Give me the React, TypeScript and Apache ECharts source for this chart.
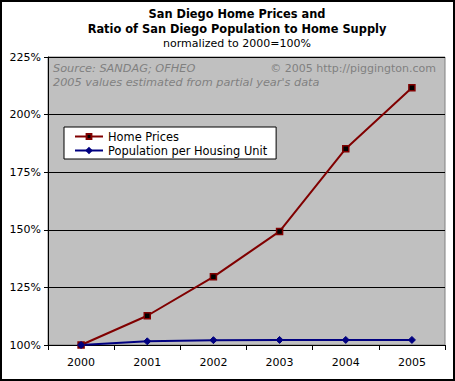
import React, { useEffect, useRef } from "react";
import * as echarts from "echarts";

const years = ["2000", "2001", "2002", "2003", "2004", "2005"];
const homePrices = [100, 112.7, 129.6, 149.3, 185.2, 211.7];
const popPerUnit = [100, 101.6, 102.1, 102.2, 102.2, 102.2];
const yTicks = { min: 100, max: 225, step: 25 };

const FONT = "DejaVu Sans";

export default function App() {
  const ref = useRef<HTMLDivElement>(null);
  useEffect(() => {
    document.body.style.margin = "0";
    const chart = echarts.init(ref.current!, null, { renderer: "svg" });
    chart.setOption({
      animation: false,
      backgroundColor: "#ffffff",
      textStyle: { fontFamily: FONT },
      grid: {
        left: 48,
        right: 10,
        top: 57,
        bottom: 36,
        show: true,
        backgroundColor: "#C0C0C0",
        borderColor: "#808080",
        borderWidth: 1,
      },
      xAxis: {
        type: "category",
        data: years,
        boundaryGap: true,
        axisLine: { show: true, lineStyle: { color: "#000", width: 1 } },
        axisTick: { show: true, length: 5, lineStyle: { color: "#000" } },
        axisLabel: { color: "#000", fontSize: 11, fontFamily: FONT, margin: 12 },
        splitLine: { show: false },
      },
      yAxis: {
        type: "value",
        min: yTicks.min,
        max: yTicks.max,
        interval: yTicks.step,
        axisLine: { show: true, lineStyle: { color: "#000", width: 1 } },
        axisTick: { show: true, length: 4, lineStyle: { color: "#000" } },
        axisLabel: {
          color: "#000",
          fontSize: 11,
          fontFamily: FONT,
          margin: 7,
          formatter: "{value}%",
        },
        splitLine: { show: true, lineStyle: { color: "#000", width: 1 } },
      },
      legend: {
        orient: "vertical",
        left: 64,
        top: 127,
        backgroundColor: "#ffffff",
        borderColor: "#000000",
        borderWidth: 1,
        borderRadius: 0,
        padding: [4, 9, 3, 10],
        itemGap: 3,
        itemWidth: 28,
        itemHeight: 6,
        textStyle: { color: "#000", fontSize: 11.4, fontFamily: FONT },
        data: ["Home Prices", "Population per Housing Unit"],
      },
      series: [
        {
          name: "Home Prices",
          type: "line",
          data: homePrices,
          color: "#800000",
          lineStyle: { color: "#800000", width: 2 },
          symbol: "rect",
          symbolSize: 6,
          itemStyle: { color: "#000000", borderColor: "#800000", borderWidth: 1.5 },
        },
        {
          name: "Population per Housing Unit",
          type: "line",
          data: popPerUnit,
          color: "#000080",
          lineStyle: { color: "#000080", width: 2 },
          symbol: "diamond",
          symbolSize: 7,
          itemStyle: { color: "#000080", borderColor: "#000080", borderWidth: 1 },
        },
      ],
      graphic: [
        {
          type: "rect",
          shape: { x: 1, y: 1, width: 453, height: 379 },
          style: { fill: "none", stroke: "#000", lineWidth: 2 },
          silent: true,
        },
        {
          type: "text",
          x: 237,
          y: 14,
          style: {
            text: "San Diego Home Prices and",
            fontFamily: FONT,
            fontSize: 11.4,
            fontWeight: "bold",
            fill: "#000",
            textAlign: "center",
            textVerticalAlign: "middle",
          },
        },
        {
          type: "text",
          x: 237,
          y: 29,
          style: {
            text: "Ratio of San Diego Population to Home Supply",
            fontFamily: FONT,
            fontSize: 11.4,
            fontWeight: "bold",
            fill: "#000",
            textAlign: "center",
            textVerticalAlign: "middle",
          },
        },
        {
          type: "text",
          x: 237,
          y: 43,
          style: {
            text: "normalized to 2000=100%",
            fontFamily: FONT,
            fontSize: 11,
            fill: "#000",
            textAlign: "center",
            textVerticalAlign: "middle",
          },
        },
        {
          type: "text",
          x: 53,
          y: 68,
          style: {
            text: "Source: SANDAG; OFHEO",
            fontFamily: FONT,
            fontSize: 11.3,
            fontStyle: "italic",
            fill: "#808080",
            textAlign: "left",
            textVerticalAlign: "middle",
          },
        },
        {
          type: "text",
          x: 53,
          y: 82,
          style: {
            text: "2005 values estimated from partial year's data",
            fontFamily: FONT,
            fontSize: 11.3,
            fontStyle: "italic",
            fill: "#808080",
            textAlign: "left",
            textVerticalAlign: "middle",
          },
        },
        {
          type: "text",
          x: 436,
          y: 68,
          style: {
            text: "© 2005 http://piggington.com",
            fontFamily: FONT,
            fontSize: 11,
            fill: "#808080",
            textAlign: "right",
            textVerticalAlign: "middle",
          },
        },
      ],
    });
    return () => chart.dispose();
  }, []);
  return (
    <div
      ref={ref}
      style={{ position: "absolute", left: 0, top: 0, width: 455, height: 381 }}
    />
  );
}
